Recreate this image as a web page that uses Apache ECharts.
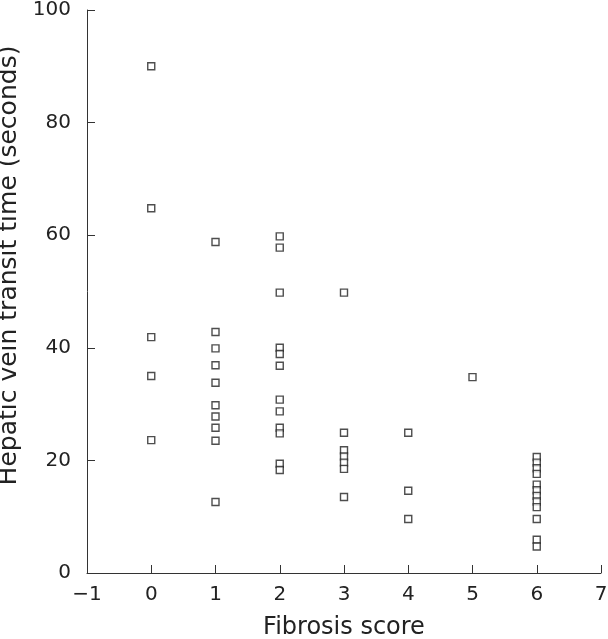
<!DOCTYPE html>
<html>
<head>
<meta charset="utf-8">
<script src="https://cdn.jsdelivr.net/npm/echarts@6/dist/echarts.min.js"></script>
<style>
  html, body { margin: 0; padding: 0; background: #fff; }
  #chart { width: 608px; height: 639px; }
</style>
</head>
<body>
<div id="chart"></div>
<script>
// fibrosis score groups and transit times (seconds)
const score0 = [90, 64.8, 41.9, 35, 23.6]
const score1 = [58.8, 42.8, 39.9, 36.9, 33.8, 29.8, 27.8, 25.8, 23.5, 12.6]
const score2 = [59.8, 57.8, 49.8, 40, 38.9, 36.8, 30.8, 28.7, 25.8, 24.8, 19.4, 18.3]
const score3 = [49.8, 24.9, 21.8, 20.7, 19.6, 18.5, 13.5]
const score4 = [24.9, 14.6, 9.6]
const score5 = [34.8]
const score6 = [20.6, 19.6, 18.6, 17.6, 15.7, 14.7, 13.7, 12.7, 11.7, 9.6, 5.9, 4.7]

const groups = [score0, score1, score2, score3, score4, score5, score6]
const points = []
groups.forEach((vals, score) => {
  vals.forEach(v => points.push([score, v]))
})

const font = 'DejaVu Sans'
const chart = echarts.init(document.getElementById('chart'))
chart.setOption({
  animation: false,
  grid: { left: 87, right: 7, top: 10, bottom: 66, outerBoundsMode: 'none', containLabel: false },
  xAxis: {
    type: 'value',
    min: -1,
    max: 7,
    interval: 1,
    name: 'Fibrosis score',
    nameLocation: 'middle',
    nameGap: 43,
    nameTextStyle: { fontFamily: font, fontSize: 24, color: '#222' },
    splitLine: { show: false },
    axisLine: { onZero: false, lineStyle: { color: '#333', width: 1 } },
    axisTick: { inside: true, length: 8, lineStyle: { color: '#333' } },
    axisLabel: {
      fontFamily: font, fontSize: 20, color: '#222', margin: 12,
      formatter: v => String(v).replace('-', '\u2212')
    }
  },
  yAxis: {
    type: 'value',
    min: 0,
    max: 100,
    interval: 20,
    name: 'Hepatic vein transit time (seconds)',
    nameLocation: 'middle',
    nameGap: 58,
    nameTextStyle: { fontFamily: font, fontSize: 25, color: '#222', padding: [0, 0, 0, 52] },
    splitLine: { show: false },
    axisLine: { show: true, onZero: false, lineStyle: { color: '#333', width: 1 } },
    axisTick: { show: true, inside: true, length: 8, lineStyle: { color: '#333' } },
    axisLabel: { fontFamily: font, fontSize: 20, color: '#222', margin: 16 }
  },
  series: [
    {
      type: 'scatter',
      symbol: 'rect',
      symbolSize: 7,
      itemStyle: { color: '#fff', borderColor: '#222', borderWidth: 1.4 },
      data: points
    }
  ]
})
</script>
</body>
</html>
